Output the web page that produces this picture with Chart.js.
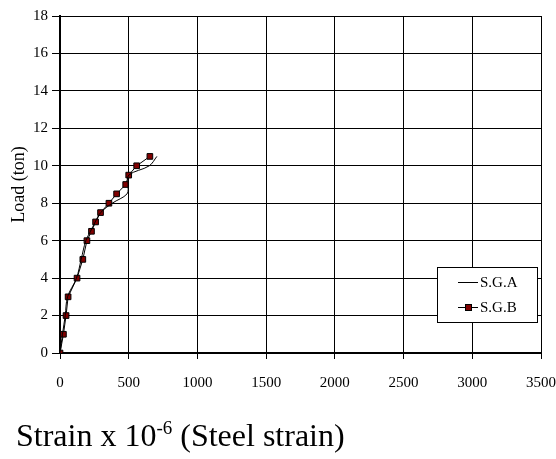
<!DOCTYPE html>
<html>
<head>
<meta charset="utf-8">
<script src="https://cdn.jsdelivr.net/npm/chart.js@4"></script>
<style>
    body { margin: 0; background: #fff; }
    #wrap { position: relative; width: 556px; height: 459px; }
    #xTitle {
        position: absolute; left: 16px; top: 417px;
        font-family: "Liberation Serif", "Times New Roman", serif;
        font-size: 32px; color: #000; white-space: nowrap;
    }
    #xTitle sup { font-size: 19px; vertical-align: 0; position: relative; top: -12px; }
</style>
</head>
<body>
<div id="wrap">
    <canvas id="chart" width="556" height="459"></canvas>
    <div id="xTitle">Strain x 10<sup>-6</sup> (Steel strain)</div>
</div>
<script>
// Charges (ton) et déformations
const loads = [0, 1, 2, 3, 4, 5, 6, 6.5, 7, 7.5, 8, 8.5, 9, 9.5, 10, 10.5];
const strainA = [0, 18, 38, 55, 120, 154, 188, 222, 256, 296, 380, 488, 495, 500, 650, 705];
const strainB = [0, 25, 44, 59, 124, 166, 196, 229, 259, 295, 356, 412, 478, 500, 558, 654];
const seriesNames = ['S.G.A', 'S.G.B'];
const xTicks = [0, 500, 1000, 1500, 2000, 2500, 3000, 3500];
const yTicks = [0, 2, 4, 6, 8, 10, 12, 14, 16, 18];

const serif = '"Liberation Serif", "Times New Roman", serif';

function toPoints(xs) {
    return xs.map((x, i) => ({ x: x, y: loads[i] }));
}

// Légende dessinée dans la zone du graphique
const boxLegend = {
    id: 'boxLegend',
    afterDraw(chart) {
        const c = chart.ctx;
        const x0 = 437, y0 = 267, w = 100, h = 55;
        c.save();
        c.fillStyle = '#fff';
        c.fillRect(x0, y0, w, h);
        c.strokeStyle = '#000';
        c.lineWidth = 1;
        c.strokeRect(x0 + 0.5, y0 + 0.5, w, h);
        c.font = '15px ' + serif;
        c.textBaseline = 'middle';
        chart.data.datasets.forEach((ds, i) => {
            const y = y0 + 15 + i * 25;
            c.strokeStyle = ds.borderColor;
            c.lineWidth = 1;
            c.beginPath();
            c.moveTo(458, y + 0.5);
            c.lineTo(478, y + 0.5);
            c.stroke();
            if (ds.pointRadius > 0) {
                c.fillStyle = ds.pointBackgroundColor;
                c.fillRect(465, y - 3, 7, 7);
                c.strokeRect(465 + 0.5, y - 2.5, 6, 6);
            }
            c.fillStyle = '#000';
            c.fillText(ds.label, 480, y + 1);
        });
        c.restore();
    }
};

new Chart(document.getElementById('chart'), {
    type: 'scatter',
    data: {
        datasets: [
            {
                label: seriesNames[0],
                data: toPoints(strainA),
                showLine: true,
                borderColor: '#000',
                borderWidth: 1,
                tension: 0.35,
                pointRadius: 0,
                pointHoverRadius: 0
            },
            {
                label: seriesNames[1],
                data: toPoints(strainB),
                showLine: true,
                borderColor: '#000',
                borderWidth: 1,
                tension: 0,
                pointStyle: 'rect',
                pointRadius: 4,
                pointBackgroundColor: '#800000',
                pointBorderColor: '#000',
                pointBorderWidth: 1
            }
        ]
    },
    options: {
        responsive: false,
        animation: false,
        layout: { padding: { top: 16, right: 15, left: 0, bottom: 0 } },
        plugins: {
            legend: { display: false },
            tooltip: { enabled: false }
        },
        scales: {
            x: {
                type: 'linear',
                min: 0,
                max: 3500,
                afterBuildTicks: s => { s.ticks = xTicks.map(v => ({ value: v })); },
                afterFit: s => { s.height = 106; s.paddingRight = 0; s.paddingLeft = 0; },
                ticks: {
                    color: '#000',
                    font: { family: serif, size: 15 },
                    padding: 15,
                    maxRotation: 0,
                    callback: v => String(v)
                },
                grid: {
                    color: '#000',
                    lineWidth: 1,
                    tickLength: 6
                },
                border: { color: '#000', width: 2 }
            },
            y: {
                type: 'linear',
                min: 0,
                max: 18,
                afterBuildTicks: s => { s.ticks = yTicks.map(v => ({ value: v })); },
                afterFit: s => { s.width = 60; },
                ticks: {
                    color: '#000',
                    font: { family: serif, size: 15 },
                    padding: 4,
                    callback: v => String(v)
                },
                grid: {
                    color: '#000',
                    lineWidth: 1,
                    tickLength: 8
                },
                border: { color: '#000', width: 2 },
                title: {
                    display: true,
                    text: 'Load (ton)',
                    color: '#000',
                    font: { family: serif, size: 18 },
                    padding: { top: 8, bottom: 0 }
                }
            }
        }
    },
    plugins: [boxLegend]
});
</script>
</body>
</html>
